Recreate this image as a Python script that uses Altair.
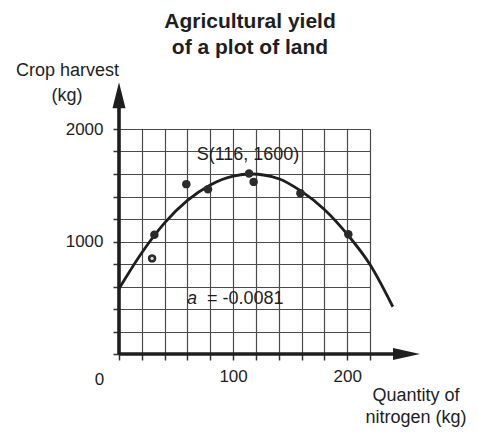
import altair as alt
import pandas as pd

# ---- data ----
nitrogen = [31, 29, 59, 78, 114, 118, 159, 201]
harvest = [1060, 850, 1510, 1465, 1605, 1530, 1430, 1065]
hollow = [0, 1, 0, 0, 0, 0, 0, 0]

curve_x = [0, 20, 40, 60, 80, 100, 116, 140, 160, 180, 200, 220, 240]
curve_y = [580, 900, 1165, 1365, 1503, 1582, 1600, 1558, 1445, 1285, 1065, 795, 420]

x_ticks = list(range(0, 221, 20))
y_ticks = list(range(0, 2001, 200))

x_axis_end = 245
y_axis_end = 2250
x_arrow_at = 252
y_arrow_at = 2300

FONT = "Liberation Sans"
INK = "#1e1e1e"

points = pd.DataFrame({"x": nitrogen, "y": harvest, "hollow": hollow})
curve = pd.DataFrame({"x": curve_x, "y": curve_y})
one = pd.DataFrame({"k": [0]})

xs = alt.Scale(domain=[0, 220], nice=False, zero=False)
ys = alt.Scale(domain=[0, 2000], nice=False, zero=False)

x_axis = alt.Axis(
    values=x_ticks, grid=True, gridColor="#4a4a4a", gridWidth=1.2,
    domain=False, ticks=True, tickSize=6, tickColor="#333", tickWidth=1.5,
    labelExpr="datum.value == 100 || datum.value == 200 ? datum.label : ''",
    labelFontSize=17, labelPadding=8, labelColor=INK, labelFont=FONT,
    title=None, format="d")
y_axis = alt.Axis(
    values=y_ticks, grid=True, gridColor="#4a4a4a", gridWidth=1.2,
    domain=False, ticks=True, tickSize=6, tickColor="#333", tickWidth=1.5,
    labelExpr="datum.value == 1000 || datum.value == 2000 ? datum.label : ''",
    labelFontSize=17, labelPadding=10, labelColor=INK, labelFont=FONT,
    title=None, format="d")


def X(f="x:Q"):
    return alt.X(f, scale=xs, axis=x_axis)


def Y(f="y:Q"):
    return alt.Y(f, scale=ys, axis=y_axis)


x_line = alt.Chart(pd.DataFrame({"x": [0], "x2": [x_axis_end], "y": [0]})).mark_rule(
    color=INK, strokeWidth=3.6).encode(x=X(), x2="x2:Q", y=Y())
y_line = alt.Chart(pd.DataFrame({"x": [0], "y": [0], "y2": [y_axis_end]})).mark_rule(
    color=INK, strokeWidth=3.6).encode(x=X(), y=Y(), y2="y2:Q")

x_arrow = alt.Chart(pd.DataFrame({"x": [x_arrow_at], "y": [0]})).mark_point(
    shape="M-1,-0.45L1,0L-1,0.45Z", filled=True, size=729, color=INK, opacity=1).encode(
    x=X(), y=Y())
y_arrow = alt.Chart(pd.DataFrame({"x": [0], "y": [y_arrow_at]})).mark_point(
    shape="M-0.5,1L0,-1L0.5,1Z", filled=True, size=676, color=INK, opacity=1).encode(
    x=X(), y=Y())

line = alt.Chart(curve).mark_line(color=INK, strokeWidth=2.8, interpolate="monotone").encode(
    x=X(), y=Y())

dots = alt.Chart(points).mark_circle(color="#2b2b2b", size=72, opacity=1).encode(
    x=X(), y=Y())
dots_hole = alt.Chart(points).transform_filter("datum.hollow == 1").mark_circle(
    color="#dddddd", size=10, opacity=1).encode(x=X(), y=Y())


def txt(s, px, py, size=18, weight="normal", align="center", style="normal"):
    return alt.Chart(one).mark_text(
        text=s, font=FONT, fontSize=size, fontWeight=weight, align=align,
        baseline="alphabetic", fontStyle=style, color=INK).encode(
        x=alt.value(px), y=alt.value(py))


texts = [
    txt("Agricultural yield", 131, -101, size=21, weight="bold"),
    txt("of a plot of land", 131, -75, size=21, weight="bold"),
    txt("Crop harvest", -51.5, -53),
    txt("(kg)", -52, -28),
    txt("Quantity of", 297, 272),
    txt("nitrogen (kg)", 297, 294),
    txt("0", -19.5, 256, size=17),
    txt("S(116, 1600)", 129, 30.5),
    txt("a", 68, 174.5, align="left", style="italic"),
    txt("= -0.0081", 88, 174.5, align="left"),
]

chart = alt.layer(line, x_line, y_line, x_arrow, y_arrow, dots, dots_hole, *texts).properties(
    width=251, height=225,
    autosize=alt.AutoSizeParams(type="none"),
    padding={"left": 111, "top": 121, "right": 100, "bottom": 73},
    background="white",
).configure_view(stroke=None)

chart.save("out.html", embed_options={"renderer": "svg", "actions": False})
